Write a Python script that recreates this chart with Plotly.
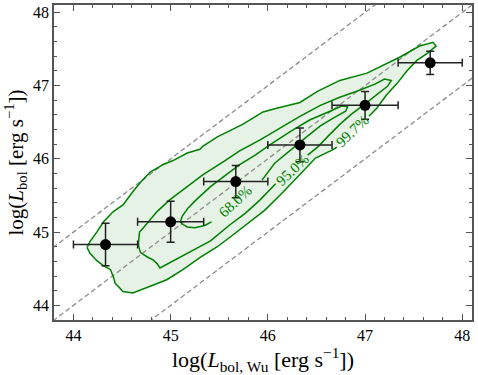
import plotly.graph_objects as go

# binned points with error bars
x_bins = [44.33, 45.00, 45.67, 46.33, 47.00, 47.67]
y_bins = [44.83, 45.14, 45.69, 46.19, 46.73, 47.31]
x_err = [0.33, 0.34, 0.33, 0.33, 0.34, 0.33]
y_err = [0.29, 0.28, 0.22, 0.23, 0.19, 0.16]

# contour outlines (None = gap for the inline label)
c997_x = [44.14, 44.17, 44.24, 44.31, 44.41, 44.51, 44.61, 44.69, 44.79, 44.92, 45.03, 45.17, 45.30, 45.33,
          45.48, 45.61, 45.74, 45.85, 45.95, 46.09, 46.33, 46.51, 46.74, 47.02, 47.22, 47.36, 47.56, 47.70,
          47.73, 47.64, 47.53, 47.43, 47.33, 47.22, 47.12, 47.04, None, 46.71, 46.66, 46.49, 46.33, 46.16,
          45.97, 45.82, 45.64, 45.48, 45.30, 45.13, 44.96, 44.79, 44.61, 44.51, 44.43, 44.41, 44.38, 44.31,
          44.24, 44.17, 44.14]
c997_y = [44.79, 44.87, 45.00, 45.14, 45.28, 45.37, 45.55, 45.68, 45.82, 45.92, 45.98, 46.08, 46.13, 46.17,
          46.30, 46.39, 46.47, 46.56, 46.64, 46.69, 46.77, 46.92, 47.07, 47.17, 47.30, 47.39, 47.54, 47.59,
          47.54, 47.44, 47.34, 47.20, 47.03, 46.87, 46.69, 46.58, None, 46.16, 46.12, 46.01, 45.78, 45.55,
          45.30, 45.14, 44.96, 44.80, 44.65, 44.49, 44.35, 44.26, 44.17, 44.19, 44.30, 44.39, 44.49, 44.54,
          44.61, 44.71, 44.79]

c95_x = [44.67, 44.68, 44.72, 44.79, 44.86, 44.99, 45.17, 45.33, 45.54, 45.71, 45.92, 46.12, 46.33, 46.54,
         46.74, 46.95, 47.10, 47.20, 47.27, 47.23, 47.13, 47.00, 46.86, 46.74, 46.62, 46.52, 46.41, None,
         46.08, 45.92, 45.77, 45.61, 45.41, 45.20, 44.99, 44.89, 44.86, 44.82, 44.76, 44.69, 44.67, 44.67]
c95_y = [44.87, 45.00, 45.06, 45.17, 45.28, 45.44, 45.62, 45.78, 45.96, 46.11, 46.26, 46.42, 46.58, 46.73,
         46.84, 46.94, 47.02, 47.09, 47.07, 46.99, 46.88, 46.75, 46.61, 46.47, 46.31, 46.17, 46.05, None,
         45.66, 45.44, 45.26, 45.10, 44.88, 44.73, 44.57, 44.51, 44.57, 44.62, 44.66, 44.72, 44.81, 44.87]

c68_x = [45.10, 45.12, 45.18, 45.27, 45.41, 45.56, 45.71, 45.87, 46.02, 46.23, 46.43, 46.64, 46.76, 46.82,
         46.80, 46.69, 46.54, 46.38, 46.23, 46.07, 45.94, None, 45.42, 45.35, 45.25, 45.17, 45.12, 45.10]
c68_y = [45.14, 45.22, 45.33, 45.45, 45.62, 45.77, 45.92, 46.05, 46.19, 46.37, 46.53, 46.65, 46.72, 46.71,
         46.65, 46.57, 46.45, 46.28, 46.12, 45.94, 45.71, None, 45.14, 45.09, 45.06, 45.07, 45.11, 45.14]

levels = ["68.0%", "95.0%", "99.7%"]
label_x = [45.67, 46.25, 46.87]
label_y = [45.42, 45.85, 46.38]

one_to_one = [43.0, 49.0]

green = "#008000"
fig = go.Figure()

# light fill of the outer region
fill_x = [v for v in c997_x if v is not None]
fill_y = [v for v in c997_y if v is not None]
fig.add_trace(go.Scatter(x=fill_x, y=fill_y, fill="toself", fillcolor="rgba(0,128,0,0.1)",
                         line=dict(width=0), mode="lines", hoverinfo="skip"))

# dashed y = x and +/- 1 dex
for off in [-1, 0, 1]:
    fig.add_trace(go.Scatter(x=one_to_one, y=[v + off for v in one_to_one], mode="lines",
                             line=dict(color="#8c8c8c", width=1.3, dash="5px,3px"), hoverinfo="skip"))

for cx, cy in [(c997_x, c997_y), (c95_x, c95_y), (c68_x, c68_y)]:
    fig.add_trace(go.Scatter(x=cx, y=cy, mode="lines", line=dict(color=green, width=1.5),
                             connectgaps=False, hoverinfo="skip"))

fig.add_trace(go.Scatter(
    x=x_bins, y=y_bins, mode="markers",
    marker=dict(color="black", size=11),
    error_x=dict(type="data", array=x_err, color="#222", thickness=1.5, width=4),
    error_y=dict(type="data", array=y_err, color="#222", thickness=1.5, width=4),
))

for t, lx, ly in zip(levels, label_x, label_y):
    fig.add_annotation(x=lx, y=ly, text=t, showarrow=False, textangle=-43,
                       font=dict(color=green, size=15, family="Liberation Serif"))

axis = dict(range=[43.8, 48.1], dtick=1, ticks="inside", ticklen=6, tickwidth=1,
            mirror="allticks", showline=True, linecolor="#555", linewidth=1.5,
            showgrid=False, zeroline=False, tickcolor="#555", automargin=False,
            minor=dict(ticks="inside", dtick=0.2, ticklen=3, tickcolor="#555"),
            tickfont=dict(size=16))

fig.update_layout(
    width=478, height=375,
    margin=dict(l=54, r=6, t=5, b=55),
    plot_bgcolor="white", paper_bgcolor="white",
    showlegend=False,
    font=dict(family="Liberation Serif", color="black", size=16),
    xaxis=dict(axis, title=dict(text="log(<i>L</i><sub>bol, Wu</sub> [erg s<sup>−1</sup>])",
                                font=dict(size=22), standoff=4)),
    yaxis=dict(axis, title=dict(text="log(<i>L</i><sub>bol</sub> [erg s<sup>−1</sup>])",
                                font=dict(size=21), standoff=4)),
)

# drop the default page margin so the figure sits at the window's corner
fig.write_html("out.html", config={"displayModeBar": False},
               post_script="document.body.style.margin='0';")
